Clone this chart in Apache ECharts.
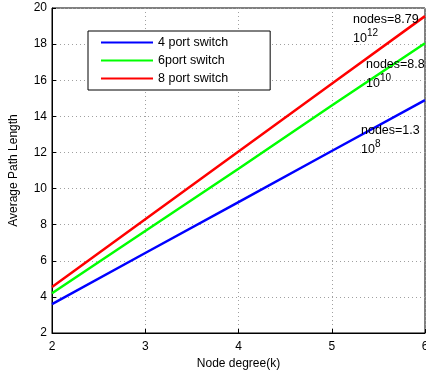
<!DOCTYPE html>
<html><head><meta charset="utf-8">
<script src="https://cdn.jsdelivr.net/npm/echarts@6/dist/echarts.min.js"></script>
<style>html,body{margin:0;padding:0;background:#fff}#c{width:426px;height:372px}</style>
</head><body><div id="c"></div>
<script>
var degrees = [2, 3, 4, 5, 6];
var seriesNames = ['4 port switch', '6port switch', '8 port switch'];
var port4 = [3.6, 6.43, 9.25, 12.08, 14.9];
var port6 = [4.2, 7.65, 11.1, 14.6, 18.05];
var port8 = [4.55, 8.3, 12.05, 15.8, 19.55];
var yTicks = {min: 2, max: 20, interval: 2};
var xTicks = {min: 2, max: 6, interval: 1};
var notes = [
  {main: 'nodes=8.79', exp: '12'},
  {main: 'nodes=8.8', exp: '10'},
  {main: 'nodes=1.3', exp: '8'}
];

function pairs(arr){ return degrees.map(function(d,i){ return [d, arr[i]]; }); }
var font = 'Liberation Sans, Arial, Helvetica, sans-serif';
var colors = ['#0000ff', '#00ff00', '#ff0000'];
var vals = [port4, port6, port8];

var chart = echarts.init(document.getElementById('c'), null, {renderer: 'canvas'});
var gridLine = {show: true, lineStyle: {color: '#a0a0a0', type: [1, 3], width: 1}};
var option = {
  animation: false,
  backgroundColor: '#fff',
  grid: {left: 52, right: 1, top: 8, bottom: 39, show: true, borderColor: '#000', borderWidth: 1,
    containLabel: false, outerBoundsMode: 'none'},
  legend: {
    orient: 'vertical', left: 88, top: 31,
    padding: [5, 42, 5, 12], itemGap: 5,
    itemWidth: 52, itemHeight: 12,
    itemStyle: {opacity: 0},
    backgroundColor: '#fff', borderColor: '#000', borderWidth: 1, borderRadius: 0,
    textStyle: {fontFamily: font, fontSize: 12.5, color: '#000'},
    data: seriesNames
  },
  xAxis: {
    type: 'value', min: xTicks.min, max: xTicks.max, interval: xTicks.interval,
    name: 'Node degree(k)', nameLocation: 'middle', nameGap: 22,
    nameTextStyle: {fontFamily: font, fontSize: 12, color: '#000'},
    axisLine: {lineStyle: {color: '#000', width: 1}},
    axisTick: {inside: true, length: 4, lineStyle: {color: '#000'}},
    axisLabel: {fontFamily: font, fontSize: 12, color: '#000', margin: 8},
    splitLine: gridLine
  },
  yAxis: {
    type: 'value', min: yTicks.min, max: yTicks.max, interval: yTicks.interval,
    name: 'Average Path Length', nameLocation: 'middle', nameGap: 32, nameRotate: 90,
    nameTextStyle: {fontFamily: font, fontSize: 12, color: '#000'},
    axisLine: {lineStyle: {color: '#000', width: 1}},
    axisTick: {inside: true, length: 4, lineStyle: {color: '#000'}},
    axisLabel: {fontFamily: font, fontSize: 12, color: '#000', margin: 5},
    splitLine: gridLine
  },
  series: seriesNames.map(function(n, i){
    return {name: n, type: 'line', data: pairs(vals[i]), symbol: 'none',
      lineStyle: {color: colors[i], width: 2.5}, itemStyle: {color: colors[i]}, z: 3 + i};
  }),
  graphic: [
    {x: 353, y: 11, note: 0},
    {x: 366, y: 56, note: 1},
    {x: 361, y: 122, note: 2}
  ].map(function(p){
    var n = notes[p.note];
    return {type: 'text', x: p.x, y: p.y, z: 100,
      style: {text: '{m|' + n.main + '}\n{b|10}{s|' + n.exp + '}',
        rich: {
          m: {fontFamily: font, fontSize: 12.5, fill: '#000', lineHeight: 17},
          b: {fontFamily: font, fontSize: 12.5, fill: '#000', lineHeight: 17, verticalAlign: 'bottom'},
          s: {fontFamily: font, fontSize: 10, fill: '#000', verticalAlign: 'top', padding: [0,0,6,0]}
        }}};
  })
};
chart.setOption(option);
</script></body></html>
